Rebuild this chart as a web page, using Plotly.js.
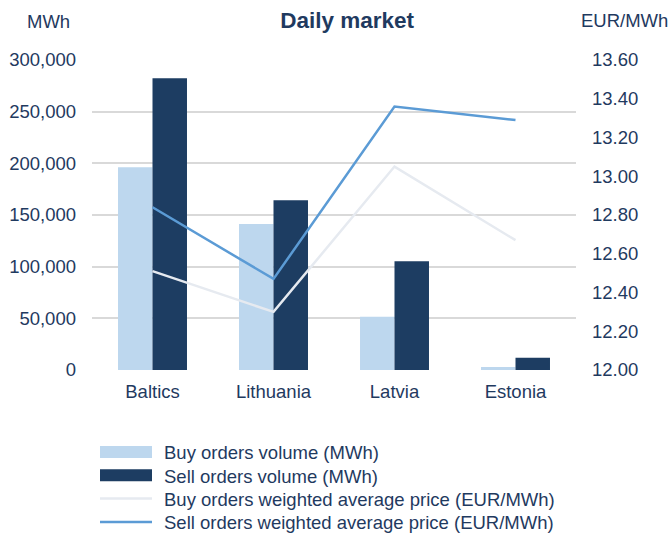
<!DOCTYPE html>
<html>
<head>
<meta charset="utf-8">
<script src="https://cdn.plot.ly/plotly-3.0.1.min.js"></script>
<style>html,body{margin:0;padding:0;background:#fff;}#chart{width:671px;height:540px;}</style>
</head>
<body>
<div id="chart"></div>
<script>
const categories = ["Baltics", "Lithuania", "Latvia", "Estonia"];
const buyVolume = [196200, 141300, 51600, 2900];
const sellVolume = [282300, 164200, 105200, 11900];
const buyPrice = [12.51, 12.30, 13.05, 12.67];
const sellPrice = [12.84, 12.47, 13.36, 13.29];
const seriesNames = [
  "Buy orders volume (MWh)",
  "Sell orders volume (MWh)",
  "Buy orders weighted average price (EUR/MWh)",
  "Sell orders weighted average price (EUR/MWh)"
];
const leftTicks = [0, 50000, 100000, 150000, 200000, 250000, 300000];
const rightTicks = [12.0, 12.2, 12.4, 12.6, 12.8, 13.0, 13.2, 13.4, 13.6];

const txt = "#1F3A5F";
const fam = "Liberation Sans, Arial, sans-serif";
const font = {family: fam, size: 18.5, color: txt};

const data = [
  {type: "bar", x: categories, y: buyVolume, name: seriesNames[0], marker: {color: "#BDD7EE"}, yaxis: "y"},
  {type: "bar", x: categories, y: sellVolume, name: seriesNames[1], marker: {color: "#1D3D62"}, yaxis: "y"},
  {type: "scatter", mode: "lines", x: categories, y: buyPrice, name: seriesNames[2], line: {color: "#E6EAF0", width: 2.5}, yaxis: "y2"},
  {type: "scatter", mode: "lines", x: categories, y: sellPrice, name: seriesNames[3], line: {color: "#5B9BD5", width: 2.5}, yaxis: "y2"}
];

const layout = {
  width: 671, height: 540,
  margin: {l: 92, r: 95, t: 60, b: 170},
  paper_bgcolor: "#fff", plot_bgcolor: "#fff",
  font: font,
  showlegend: true,
  title: {text: "<b>Daily market</b>", font: {family: fam, size: 22.5, color: txt}, x: 0.527, xref: "paper", xanchor: "center", y: 0.963, yref: "container", yanchor: "middle"},
  barmode: "group", bargap: 0.43, bargroupgap: 0,
  xaxis: {type: "category", showgrid: false, zeroline: false, showline: false, ticks: "", tickfont: font, ticklabelstandoff: 8},
  yaxis: {range: [0, 300000], tickvals: leftTicks, tickformat: ",", showgrid: true, gridcolor: "#D9D9D9", gridwidth: 2, zeroline: false, showline: false, ticks: "", tickfont: font, ticklabelstandoff: 15},
  yaxis2: {range: [12, 13.6], tickvals: rightTicks, tickformat: ".2f", overlaying: "y", side: "right", showgrid: false, zeroline: false, showline: false, ticks: "", tickfont: font, ticklabelstandoff: 15},
  legend: {x: 0.0062, xanchor: "left", y: -0.08, yanchor: "top", orientation: "v", font: font, itemwidth: 52, tracegroupgap: 0, bgcolor: "rgba(0,0,0,0)"},
  annotations: [
    {text: "MWh", xref: "paper", yref: "paper", x: -0.089, y: 1.123, xanchor: "center", yanchor: "middle", showarrow: false, font: font},
    {text: "EUR/MWh", xref: "paper", yref: "paper", x: 1.101, y: 1.129, xanchor: "center", yanchor: "middle", showarrow: false, font: font}
  ]
};

Plotly.newPlot("chart", data, layout, {displayModeBar: false, staticPlot: true}).then(gd => {
  gd.querySelectorAll(".legend [clip-path], .legend[clip-path]").forEach(el => el.removeAttribute("clip-path"));
  const traces = Array.from(gd.querySelectorAll(".legend .traces"));
  let cx = null, lineW = null;
  traces.forEach(tr => {
    const lp = tr.querySelector(".legendlines path");
    if (lp && cx === null) {
      const bb = lp.getBBox();
      cx = bb.x + bb.width / 2; lineW = bb.width;
    }
  });
  const pos = traces.map(tr => {
    const m = /translate\(([^,]+),\s*([^)]+)\)/.exec(tr.getAttribute("transform") || "");
    return m ? [parseFloat(m[1]), parseFloat(m[2])] : [0, 0];
  });
  traces.forEach((tr, i) => {
    const d = tr.__data__ && tr.__data__[0] && tr.__data__[0].trace;
    if (d && d.type === "bar") {
      const p = tr.querySelector(".legendpoints path");
      if (p && cx !== null) {
        p.setAttribute("d", "M" + (-lineW / 2) + ",-6H" + (lineW / 2) + "V6H" + (-lineW / 2) + "Z");
        p.setAttribute("transform", "translate(" + cx + ",0)");
      }
    }
    const t = tr.querySelector(".legendtext");
    if (t) t.setAttribute("x", +t.getAttribute("x") + 7);
    tr.setAttribute("transform", "translate(" + pos[i][0] + "," + (pos[0][1] + i * 23.3) + ")");
  });
  const ref = traces[2].querySelector(".legendlines path");
  if (ref) {
    const r = ref.getBoundingClientRect();
    const host = gd.getBoundingClientRect();
    const measured = r.top + r.height / 2 - host.top;
    const diff = (452 + 2 * 23.3) - measured;
    traces.forEach((tr, i) => {
      tr.setAttribute("transform", "translate(" + pos[i][0] + "," + (pos[0][1] + i * 23.3 + diff) + ")");
    });
  }
});
</script>
</body>
</html>
